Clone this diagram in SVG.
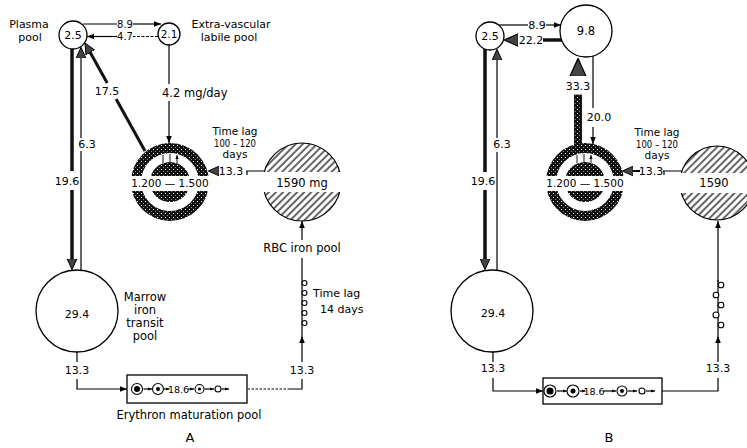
<svg xmlns="http://www.w3.org/2000/svg" width="747" height="448" viewBox="0 0 747 448">
<style>
text{font-family:"DejaVu Sans","Liberation Sans",sans-serif;font-size:11.5px;fill:#000}
.m{text-anchor:middle}
.s{font-size:10.5px}
.n{font-size:11px}
.f{font-size:10px}
.ln{stroke:#000;stroke-width:1.2;fill:none}
.th{stroke:#111;stroke-width:3.5;fill:none}
.c{fill:#fff;stroke:#000;stroke-width:1.3}
.cell{fill:#fff;stroke:#000;stroke-width:1.1}
</style>
<defs>
<pattern id="stip" width="4" height="4" patternUnits="userSpaceOnUse"><rect width="4" height="4" fill="#111"/><rect x="1" y="1" width="1" height="1" fill="#fff"/><rect x="3" y="3" width="1" height="1" fill="#888"/></pattern>
<pattern id="hatch" width="5" height="5" patternUnits="userSpaceOnUse" patternTransform="rotate(45)"><rect width="5" height="5" fill="#fff"/><line x1="1" y1="0" x2="1" y2="5" stroke="#000" stroke-width="1.2"/></pattern>
<marker id="ah" viewBox="0 0 10 10" refX="10" refY="5" markerWidth="7" markerHeight="7" markerUnits="userSpaceOnUse" orient="auto"><path d="M0,1 L10,5 L0,9 Z" fill="#000"/></marker>
<marker id="as" viewBox="0 0 10 10" refX="10" refY="5" markerWidth="4" markerHeight="4" markerUnits="userSpaceOnUse" orient="auto"><path d="M0,1 L10,5 L0,9 Z" fill="#000"/></marker>
<marker id="at" viewBox="0 0 10 10" refX="3" refY="5" markerWidth="11" markerHeight="11" markerUnits="userSpaceOnUse" orient="auto"><path d="M0,0.5 L10,5 L0,9.5 Z" fill="#444" stroke="#000" stroke-width="0.9"/></marker>
<marker id="at2" viewBox="0 0 10 10" refX="3" refY="5" markerWidth="14" markerHeight="14" markerUnits="userSpaceOnUse" orient="auto"><path d="M0,0.5 L10,5 L0,9.5 Z" fill="#444" stroke="#000" stroke-width="0.8"/></marker>
<marker id="ahH" viewBox="0 0 10 10" refX="3" refY="5" markerWidth="18" markerHeight="18" markerUnits="userSpaceOnUse" orient="auto"><path d="M0,0.5 L10,5 L0,9.5 Z" fill="#444" stroke="#000" stroke-width="0.7"/></marker>
</defs>
<rect width="747" height="448" fill="#fff"/>

<!-- ===== Panel A ===== -->
<g id="connectors-a">
  <path class="ln" d="M83,24 H117"/>
  <path class="ln" d="M133,24 H161" marker-end="url(#ah)"/>
  <path class="ln" d="M158,36.5 H133" stroke-dasharray="3 1.5"/>
  <path class="ln" d="M117,36.5 H87" marker-end="url(#ah)"/>
  <path class="ln" d="M169,45 V84"/>
  <path class="ln" d="M169,101 V143" marker-end="url(#ah)"/>
  <path class="th" style="stroke-width:3" d="M145,151 L116.1,99"/>
  <path class="th" style="stroke-width:3" d="M107.2,83 L88.7,49.7" marker-end="url(#at)"/>
  <path class="th" d="M72,49 V171"/>
  <path class="th" d="M72,190 V262" marker-end="url(#at)"/>
  <path class="ln" d="M81,270 V151"/>
  <path class="ln" d="M81,138 V55" marker-end="url(#at)"/>
  <path class="ln" d="M264,171 H246 M247,171 V175"/>
  <path class="ln" style="stroke-width:2" d="M218,171 L216,171" marker-end="url(#at)"/>
  <path class="ln" d="M302,240 V221" marker-end="url(#ah)"/>
  <path class="ln" d="M302,258 V336"/>
  <g class="cell">
    <circle cx="304.5" cy="283" r="2.5"/><circle cx="304.5" cy="293" r="2.5"/><circle cx="304.5" cy="303" r="2.5"/><circle cx="304.5" cy="313" r="2.5"/><circle cx="304.5" cy="323" r="2.5"/>
  </g>
  <path class="ln" d="M302,362 V336" marker-end="url(#ah)"/>
  <path class="ln" d="M302,379 V389 H290"/>
  <path class="ln" d="M290,389 H247" stroke-dasharray="2.5 1.5"/>
  <path class="ln" d="M77,352 V362"/>
  <path class="ln" d="M77,379 V389 H127" marker-end="url(#ah)"/>
</g>

<g id="plasma-a">
  <circle class="c" cx="73" cy="35" r="14"/>
  <text class="m n" x="73" y="39">2.5</text>
  <text class="m n" x="29" y="28">Plasma</text>
  <text class="m n" x="30" y="41">pool</text>
</g>
<g id="extravascular-a">
  <circle class="c" cx="169" cy="34" r="11"/>
  <text class="m s" x="169" y="38">2.1</text>
  <text class="m n" x="231" y="28">Extra-vascular</text>
  <text class="m n" x="229" y="41">labile pool</text>
</g>
<g id="labels-a">
  <text class="m f" x="125" y="27.5">8.9</text>
  <text class="m f" x="125" y="40">4.7</text>
  <text x="162" y="97">4.2 mg/day</text>
  <text class="m n" x="107" y="95">17.5</text>
  <text class="m n" x="87" y="148">6.3</text>
  <text class="m n" x="67" y="185">19.6</text>
  <text class="m s" x="235" y="135">Time lag</text>
  <text class="m s" x="235" y="147" textLength="42" lengthAdjust="spacingAndGlyphs">100 – 120</text>
  <text class="m s" x="235" y="158">days</text>
  <text class="m n" x="231" y="175">13.3</text>
  <text class="m" x="302" y="252">RBC iron pool</text>
  <text class="n" x="313" y="297">Time lag</text>
  <text class="n" x="320" y="313">14 days</text>
  <text class="m n" x="77" y="374">13.3</text>
  <text class="m n" x="302" y="374">13.3</text>
  <text class="m" style="font-size:13px" x="190" y="442">A</text>
</g>
<g id="storage-a">
  <circle cx="170" cy="182" r="39" fill="url(#stip)"/>
  <circle cx="170" cy="182" r="29" fill="#fff"/>
  <circle cx="170" cy="182" r="20" fill="url(#stip)"/>
  <rect x="128" y="176" width="84" height="15" fill="#fff"/>
  <text class="m s" x="170" y="187">1.200 — 1.500</text>
  <path class="ln" style="stroke-width:0.9" d="M163,163 V155 M170,162 V154 M177,163 V155" marker-end="url(#as)"/>
</g>
<g id="rbc-a">
  <circle cx="302" cy="182" r="39" fill="url(#hatch)" stroke="#000" stroke-width="1.2"/>
  <rect x="262" y="172" width="80" height="20" fill="#fff"/>
  <text class="m" x="302" y="187">1590 mg</text>
</g>
<g id="marrow-a">
  <circle class="c" cx="77" cy="311" r="41"/>
  <text class="m n" x="77" y="318">29.4</text>
  <text class="m" x="145" y="301">Marrow</text>
  <text class="m" x="145" y="314">iron</text>
  <text class="m" x="145" y="327">transit</text>
  <text class="m" x="145" y="340">pool</text>
</g>
<g id="erythron-a">
  <rect x="127" y="375" width="120" height="28" fill="#fff" stroke="#000" stroke-width="1.3"/>
  <circle class="cell" cx="137" cy="389" r="5.5"/><circle cx="137" cy="389" r="3"/>
  <path class="ln" d="M143.5,389 H152" marker-end="url(#as)"/>
  <circle class="cell" cx="158" cy="389" r="5.5"/><circle cx="158" cy="389" r="2"/>
  <path class="ln" d="M164,389 H169.5" marker-end="url(#as)"/>
  <text class="m" style="font-size:9.5px" x="178.5" y="392.5">18.6</text>
  <path class="ln" d="M188,389 H194" marker-end="url(#as)"/>
  <circle class="cell" cx="199.5" cy="389" r="4.5"/><circle cx="199.5" cy="389" r="1.6"/>
  <path class="ln" d="M204.5,389 H214" marker-end="url(#as)"/>
  <circle class="cell" cx="218" cy="389" r="3"/>
  <path class="ln" d="M221.5,389 H229" marker-end="url(#as)"/>
  <text class="m" x="189" y="419">Erythron maturation pool</text>
</g>

<!-- ===== Panel B ===== -->
<g id="connectors-b">
  <path class="ln" d="M499,25 H528"/>
  <path class="ln" d="M546,25 H561" marker-end="url(#ah)"/>
  <path class="th" d="M562,40 H543"/>
  <path class="ln" style="stroke-width:2" d="M516,40 L514,40" marker-end="url(#at2)"/>
  <rect x="574.5" y="95" width="7" height="52" fill="url(#stip)" stroke="#000" stroke-width="0.8"/>
  <path class="ln" style="stroke-width:2" d="M578,75 V71" marker-end="url(#ahH)"/>
  <path class="ln" d="M593,56 V108"/>
  <path class="ln" d="M593,127 V144" marker-end="url(#ah)"/>
  <path class="th" d="M485,49 V172"/>
  <path class="th" d="M485,190 V262" marker-end="url(#at)"/>
  <path class="ln" d="M497,270 V152"/>
  <path class="ln" d="M497,138 V57" marker-end="url(#at)"/>
  <path class="ln" d="M682,171 H663 M664,171 V175"/>
  <path class="ln" style="stroke-width:2" d="M640,171 L630,171" marker-end="url(#at)"/>
  <path class="ln" d="M718,282 V221" marker-end="url(#ah)"/>
  <path class="ln" d="M718,280 V336"/>
  <g class="cell">
    <circle cx="721" cy="285" r="2.8"/><circle cx="716" cy="295" r="2.8"/><circle cx="721" cy="305" r="2.8"/><circle cx="716" cy="315" r="3"/><circle cx="721" cy="325" r="2.8"/>
  </g>
  <path class="ln" d="M718,362 V336" marker-end="url(#ah)"/>
  <path class="ln" d="M718,378 V391 H662"/>
  <path class="ln" d="M493,352 V362"/>
  <path class="ln" d="M493,378 V391 H543" marker-end="url(#ah)"/>
</g>
<g id="plasma-b">
  <circle class="c" cx="490" cy="36" r="14"/>
  <text class="m n" x="490" y="40">2.5</text>
</g>
<g id="extravascular-b">
  <circle class="c" cx="586" cy="31" r="26"/>
  <text class="m" x="586" y="35">9.8</text>
</g>
<g id="labels-b">
  <text class="m n" x="537" y="29">8.9</text>
  <text class="m n" x="531" y="44">22.2</text>
  <text class="m n" x="578" y="90">33.3</text>
  <text class="m n" x="599" y="121">20.0</text>
  <text class="m n" x="502" y="148">6.3</text>
  <text class="m n" x="483" y="185">19.6</text>
  <text class="m s" x="657" y="136">Time lag</text>
  <text class="m s" x="657" y="148" textLength="42" lengthAdjust="spacingAndGlyphs">100 – 120</text>
  <text class="m s" x="657" y="159">days</text>
  <text class="m n" x="651" y="175">13.3</text>
  <text class="m n" x="493" y="372">13.3</text>
  <text class="m n" x="718" y="372">13.3</text>
  <text class="m" style="font-size:13px" x="609" y="442">B</text>
</g>
<g id="storage-b">
  <circle cx="585" cy="182" r="39" fill="url(#stip)"/>
  <circle cx="585" cy="182" r="29" fill="#fff"/>
  <circle cx="585" cy="182" r="20" fill="url(#stip)"/>
  <rect x="544" y="176" width="82" height="15" fill="#fff"/>
  <text class="m s" x="585" y="187">1.200 — 1.500</text>
  <path class="ln" style="stroke-width:0.9" d="M577,163 V155 M584,162 V154 M591,163 V155" marker-end="url(#as)"/>
</g>
<g id="rbc-b">
  <circle cx="717" cy="183" r="37" fill="url(#hatch)" stroke="#000" stroke-width="1.2"/>
  <rect x="678" y="173" width="78" height="20" fill="#fff"/>
  <text class="m" x="714" y="187">1590</text>
</g>
<g id="marrow-b">
  <circle class="c" cx="492" cy="311" r="41"/>
  <text class="m n" x="493" y="317">29.4</text>
</g>
<g id="erythron-b">
  <rect x="543" y="378" width="119" height="26" fill="#fff" stroke="#000" stroke-width="1.3"/>
  <circle class="cell" cx="550" cy="391" r="6"/><circle cx="550" cy="391" r="3.5"/>
  <path class="ln" d="M557,391 H567" marker-end="url(#as)"/>
  <circle class="cell" cx="573" cy="391" r="6"/><circle cx="573" cy="391" r="2.5"/>
  <path class="ln" d="M580,391 H585.5" marker-end="url(#as)"/>
  <text class="m" style="font-size:9.5px" x="594" y="394.5">18.6</text>
  <path class="ln" d="M603,391 H616" marker-end="url(#as)"/>
  <circle class="cell" cx="622" cy="391" r="5"/><circle cx="622" cy="391" r="2"/>
  <path class="ln" d="M628,391 H637" marker-end="url(#as)"/>
  <circle class="cell" cx="642" cy="391" r="3"/>
  <path class="ln" d="M646,391 H655" marker-end="url(#as)"/>
</g>
</svg>
